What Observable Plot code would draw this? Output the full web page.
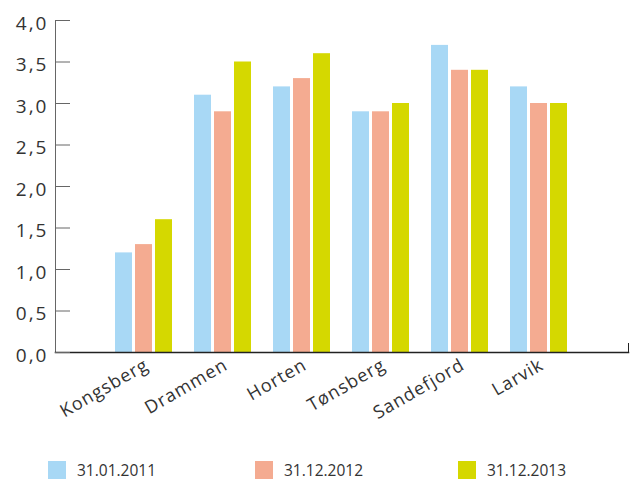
<!DOCTYPE html>
<html><head><meta charset="utf-8">
<script src="https://cdn.jsdelivr.net/npm/d3@7"></script>
<script src="https://cdn.jsdelivr.net/npm/@observablehq/plot@0.6"></script>
<style>
body{margin:0;background:#fff;font-family:"Open Sans",sans-serif;overflow:hidden}
#legend{display:flex;margin:11px 0 0 48px;height:18px}
.item{display:flex;align-items:center;font-size:15.5px;line-height:18px;height:18px;color:#333;flex:none}
.sw{width:18px;height:18px;margin-right:11px;flex:none}
g[aria-label="y-axis tick label"] text{letter-spacing:2px}
g[aria-label="x-axis tick label"] text{letter-spacing:1px}
</style></head><body><div id="chart"></div><div id="legend"></div>
<script>
const cities = ["Kongsberg","Drammen","Horten","Tønsberg","Sandefjord","Larvik"];
const series = ["31.01.2011","31.12.2012","31.12.2013"];
const v2011 = [1.2,3.1,3.2,2.9,3.7,3.2];
const v2012 = [1.3,2.9,3.3,2.9,3.4,3.0];
const v2013 = [1.6,3.5,3.6,3.0,3.4,3.0];
const colors = ["#a8d8f5","#f4ab91","#d5d800"];
const yTicks = [0,0.5,1,1.5,2,2.5,3,3.5,4];

const valuesBySeries = [v2011, v2012, v2013];
const tidy = [];
series.forEach((s, k) => cities.forEach((c, i) => tidy.push({city: c, series: s, value: valuesBySeries[k][i]})));

const insets = [[0,40],[20,20],[40,0]];
const fmt = d => d.toFixed(1).replace(".", ",");

const plot = Plot.plot({
  width: 633, height: 450,
  marginLeft: 55, marginRight: 5, marginTop: 20, marginBottom: 98,
  style: {fontFamily: "'Open Sans', sans-serif", color: "#333", background: "#fff"},
  x: {domain: cities, paddingInner: 0.273, paddingOuter: 0.727},
  y: {domain: [0, 4]},
  color: {domain: series, range: colors},
  marks: [
    ...series.map((s, k) => Plot.barY(tidy, {filter: d => d.series === s, x: "city", y: "value", fill: "series", insetLeft: insets[k][0], insetRight: insets[k][1]})),
    Plot.frame({anchor: "left", stroke: "#666"}),
    Plot.frame({anchor: "bottom", stroke: "#222", strokeWidth: 1.5}),
    Plot.frame({anchor: "right", insetTop: 323, stroke: "#222"}),
    Plot.axisY({ticks: yTicks, tickFormat: () => "", tickSize: -15, label: null, stroke: "#666"}),
    Plot.axisY({ticks: yTicks, tickFormat: fmt, tickSize: 0, tickPadding: 7, dy: 3, fontSize: 19, label: null}),
    Plot.axisX({tickRotate: -30, tickSize: 0, tickPadding: 11, dx: 3, fontSize: 18, label: null})
  ]
});
document.getElementById("chart").appendChild(plot);

const legend = document.getElementById("legend");
series.forEach((s, k) => {
  const it = document.createElement("div");
  it.className = "item";
  it.style.width = (k === 0 ? 207 : 203) + "px";
  const sw = document.createElement("div");
  sw.className = "sw";
  sw.style.background = colors[k];
  const tx = document.createElement("span");
  tx.textContent = s;
  it.appendChild(sw); it.appendChild(tx);
  legend.appendChild(it);
});
</script></body></html>
